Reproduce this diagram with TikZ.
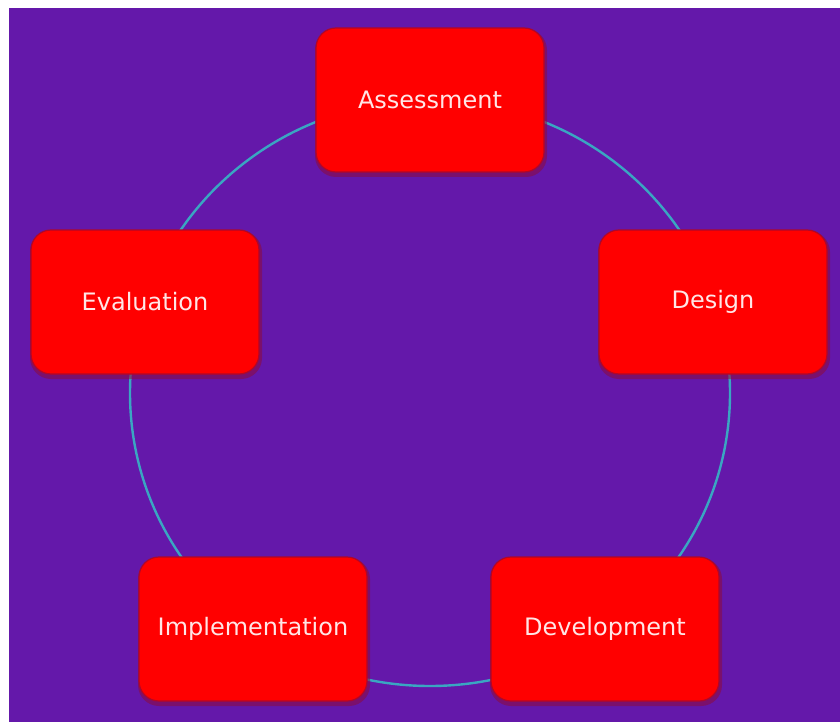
\documentclass[tikz,border=0pt]{standalone}
\usepackage{fontspec}
\setmainfont{DejaVu Sans}
\definecolor{bgpurple}{HTML}{6418AA}
\definecolor{ringcol}{HTML}{3AA6C2}
\definecolor{boxred}{HTML}{FF0000}
\definecolor{shadowred}{HTML}{8E0A3A}
\definecolor{textpink}{HTML}{FFE6E6}
\begin{document}
\begin{tikzpicture}[x=1pt,y=-1pt,
  stagebox/.style={rectangle, rounded corners=20pt, fill=boxred, draw=shadowred!70!boxred, line width=1.2pt,
    minimum width=228pt, minimum height=144pt, text=textpink, font=\fontsize{24}{28}\selectfont, inner sep=0pt},
  stageshadow/.style={rectangle, rounded corners=21pt, fill=shadowred, opacity=0.55,
    minimum width=232pt, minimum height=148pt},
  ring/.style={draw=ringcol, line width=2.4pt}]
\useasboundingbox (0,0) rectangle (840,722);
\fill[white] (0,0) rectangle (840,722);
\fill[bgpurple] (9,8) rectangle (840,722);
\draw[ring] (430,393) ellipse [x radius=300, y radius=293];
\foreach \n/\x/\y in {a/430/100, d/713/302, v/605/629, i/253/629, e/145/302}{
  \node[stageshadow] at (\x+1,\y+3) {};
}
\node[stagebox] (assess) at (430,100) {Assessment};
\node[stagebox] (design) at (713,302) {Design};
\node[stagebox] (devel) at (605,629) {Development};
\node[stagebox] (impl) at (253,629) {Implementation};
\node[stagebox] (eval) at (145,302) {Evaluation};
\end{tikzpicture}
\end{document}
